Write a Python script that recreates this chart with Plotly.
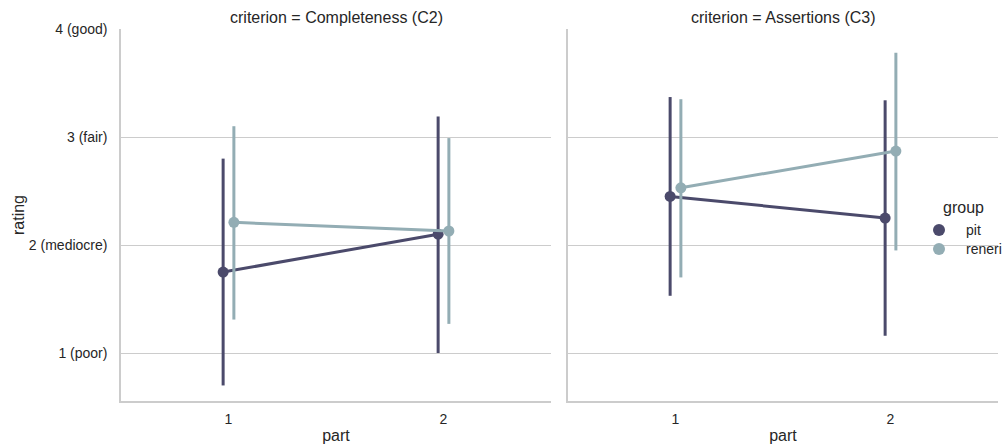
import plotly.graph_objects as go

# ---- data ----
parts = ["1", "2"]
groups = ["pit", "reneri"]
criteria = ["Completeness (C2)", "Assertions (C3)"]
y_tick_vals = [1, 2, 3, 4]
y_tick_text = ["1 (poor)", "2 (mediocre)", "3 (fair)", "4 (good)"]

c2_pit_mean = [1.75, 2.10]
c2_pit_low = [0.70, 1.00]
c2_pit_high = [2.80, 3.19]
c2_reneri_mean = [2.21, 2.13]
c2_reneri_low = [1.31, 1.27]
c2_reneri_high = [3.10, 2.99]

c3_pit_mean = [2.45, 2.25]
c3_pit_low = [1.53, 1.16]
c3_pit_high = [3.37, 3.34]
c3_reneri_mean = [2.53, 2.87]
c3_reneri_low = [1.70, 1.95]
c3_reneri_high = [3.35, 3.78]

data = {
    "Completeness (C2)": {
        "pit": (c2_pit_mean, c2_pit_low, c2_pit_high),
        "reneri": (c2_reneri_mean, c2_reneri_low, c2_reneri_high),
    },
    "Assertions (C3)": {
        "pit": (c3_pit_mean, c3_pit_low, c3_pit_high),
        "reneri": (c3_reneri_mean, c3_reneri_low, c3_reneri_high),
    },
}

colors = {"pit": "#4b4a6b", "reneri": "#93adb4"}
dodge = {"pit": -0.025, "reneri": 0.025}
TXT = "#262626"
GRID = "#cccccc"
FONT = "Liberation Sans, Arial, sans-serif"

W, H = 1003, 448


def px(x):
    return x / W


def py(y):
    return 1 - y / H


fig = go.Figure()
for ci, crit in enumerate(criteria):
    xa = "x" if ci == 0 else "x2"
    ya = "y" if ci == 0 else "y2"
    for g in groups:
        mean, low, high = data[crit][g]
        xs = [i + dodge[g] for i in range(len(parts))]
        fig.add_trace(go.Scatter(
            x=xs, y=mean, mode="lines+markers", name=g,
            line=dict(color=colors[g], width=3),
            marker=dict(color=colors[g], size=11),
            error_y=dict(type="data", symmetric=False,
                         array=[h - m for h, m in zip(high, mean)],
                         arrayminus=[m - l for m, l in zip(mean, low)],
                         color=colors[g], thickness=3, width=0),
            xaxis=xa, yaxis=ya, showlegend=False, hoverinfo="skip",
        ))

xdom1 = [px(121), px(551)]
xdom2 = [px(568), px(998)]
ydom = [py(401), py(29)]

xcommon = dict(range=[-0.5, 1.5], tickmode="array",
               tickvals=list(range(len(parts))), ticktext=parts,
               showgrid=False, zeroline=False, showline=True,
               linecolor=GRID, linewidth=1.5, automargin=False,
               ticks="outside", ticklen=4, tickcolor="rgba(0,0,0,0)",
               tickfont=dict(size=14, color=TXT, family=FONT),
               title=dict(text="part", font=dict(size=16, color=TXT, family=FONT), standoff=4))
ycommon = dict(range=[0.556, 4.0], tickmode="array", tickvals=y_tick_vals,
               showgrid=True, gridcolor=GRID, gridwidth=1, zeroline=False,
               showline=True, linecolor=GRID, linewidth=1.5, automargin=False,
               ticks="outside", ticklen=9, tickcolor="rgba(0,0,0,0)",
               tickfont=dict(size=14, color=TXT, family=FONT))

annotations = [
    dict(text="criterion = " + criteria[0], x=(xdom1[0] + xdom1[1]) / 2, y=py(18),
         xref="paper", yref="paper", showarrow=False, xanchor="center", yanchor="middle",
         font=dict(size=16, color=TXT, family=FONT)),
    dict(text="criterion = " + criteria[1], x=(xdom2[0] + xdom2[1]) / 2, y=py(18),
         xref="paper", yref="paper", showarrow=False, xanchor="center", yanchor="middle",
         font=dict(size=16, color=TXT, family=FONT)),
    # legend title
    dict(text="group", x=px(963), y=py(207), xref="paper", yref="paper", showarrow=False,
         xanchor="center", yanchor="middle", font=dict(size=16, color=TXT, family=FONT)),
]
shapes = []
leg_y = {"pit": 230, "reneri": 249}
for g in groups:
    yc = leg_y[g]
    shapes.append(dict(type="circle", xref="paper", yref="paper",
                       x0=px(939 - 6), x1=px(939 + 6), y0=py(yc + 6), y1=py(yc - 6),
                       fillcolor=colors[g], line=dict(width=0)))
    annotations.append(dict(text=g, x=px(964), y=py(yc), xref="paper", yref="paper",
                            showarrow=False, xanchor="left", yanchor="middle",
                            font=dict(size=14, color=TXT, family=FONT)))

fig.update_layout(
    template="none",
    width=W, height=H,
    margin=dict(l=0, r=0, t=0, b=0, pad=0),
    paper_bgcolor="white", plot_bgcolor="white",
    font=dict(family=FONT, color=TXT),
    showlegend=False,
    xaxis=dict(domain=xdom1, anchor="y", **xcommon),
    xaxis2=dict(domain=xdom2, anchor="y2", **xcommon),
    yaxis=dict(domain=ydom, anchor="x", ticktext=y_tick_text,
               title=dict(text="rating", font=dict(size=16, color=TXT, family=FONT), standoff=0),
               **ycommon),
    yaxis2=dict(domain=ydom, anchor="x2", matches="y", ticktext=[""] * 4,
                showticklabels=False, **ycommon),
    annotations=annotations,
    shapes=shapes,
)

fig.write_html(
    "out.html",
    config={"displayModeBar": False},
    post_script="document.body.style.margin='0';document.body.style.overflow='hidden';",
)
